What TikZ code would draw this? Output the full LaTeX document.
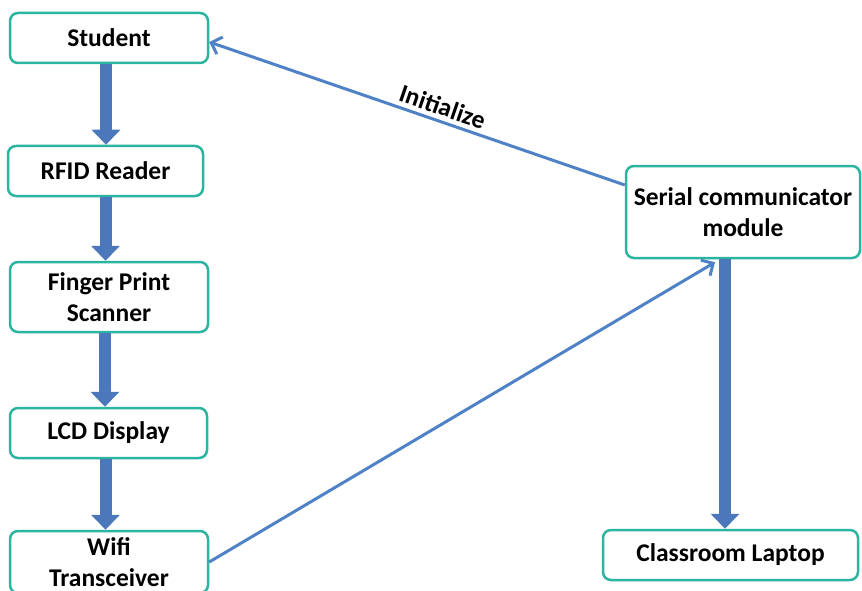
\documentclass[tikz,border=0pt]{standalone}
\usepackage{fontspec}
\setmainfont{Carlito}
\usetikzlibrary{arrows.meta}
\definecolor{boxline}{HTML}{2BB5A0}
\definecolor{arrowblue}{HTML}{4A78BA}
\definecolor{lineblue}{HTML}{4F81C7}
\begin{document}
\begin{tikzpicture}[x=1pt,y=-1pt,
  box/.style={draw=boxline, line width=2.5pt, rounded corners=8pt, fill=white, align=center,
    font=\fontsize{25.5}{31}\selectfont\bfseries, inner sep=0pt},
  bigarrow/.style={draw=arrowblue, line width=12pt, -{Triangle[length=15pt,width=28pt]}},
  thinarrow/.style={draw=lineblue, line width=3pt, -{Straight Barb[length=9pt,width=18pt]}},
  lbl/.style={font=\fontsize{25.5}{31}\selectfont\bfseries}]
\useasboundingbox (0,0) rectangle (862,591);
\node[box, minimum width=198pt, minimum height=50pt] (student) at (109,38) {Student};
\node[box, minimum width=195pt, minimum height=50pt] (rfid) at (105.5,171) {RFID Reader};
\node[box, minimum width=198pt, minimum height=70pt] (finger) at (109,297) {Finger Print\\Scanner};
\node[box, minimum width=197pt, minimum height=50pt] (lcd) at (108.5,433) {LCD Display};
\node[box, minimum width=198pt, minimum height=62pt] (wifi) at (109,562) {Wifi\\Transceiver};
\node[box, minimum width=234pt, minimum height=92pt] (serial) at (743,212) {Serial communicator\\module};
\node[box, minimum width=255pt, minimum height=50pt] (laptop) at (730.5,555) {Classroom Laptop};

\draw[bigarrow] ([xshift=-3pt]student.south) -- ([xshift=-3pt]student.south |- rfid.north);
\draw[bigarrow] (rfid.south) -- (rfid.south |- finger.north);
\draw[bigarrow] ([xshift=-4pt]finger.south) -- ([xshift=-4pt]finger.south |- lcd.north);
\draw[bigarrow] ([xshift=-3pt]lcd.south) -- ([xshift=-3pt]lcd.south |- wifi.north);
\draw[bigarrow] ([xshift=-18pt]serial.south) -- ([xshift=-18pt]serial.south |- laptop.north);

\draw[thinarrow] ([yshift=27pt]serial.west) -- node[lbl, sloped, above=1pt, pos=0.45] {Initialize} ([yshift=-4pt]student.east);
\draw[thinarrow] (wifi.east) -- ([xshift=-28pt,yshift=-3pt]serial.south);
\end{tikzpicture}
\end{document}
